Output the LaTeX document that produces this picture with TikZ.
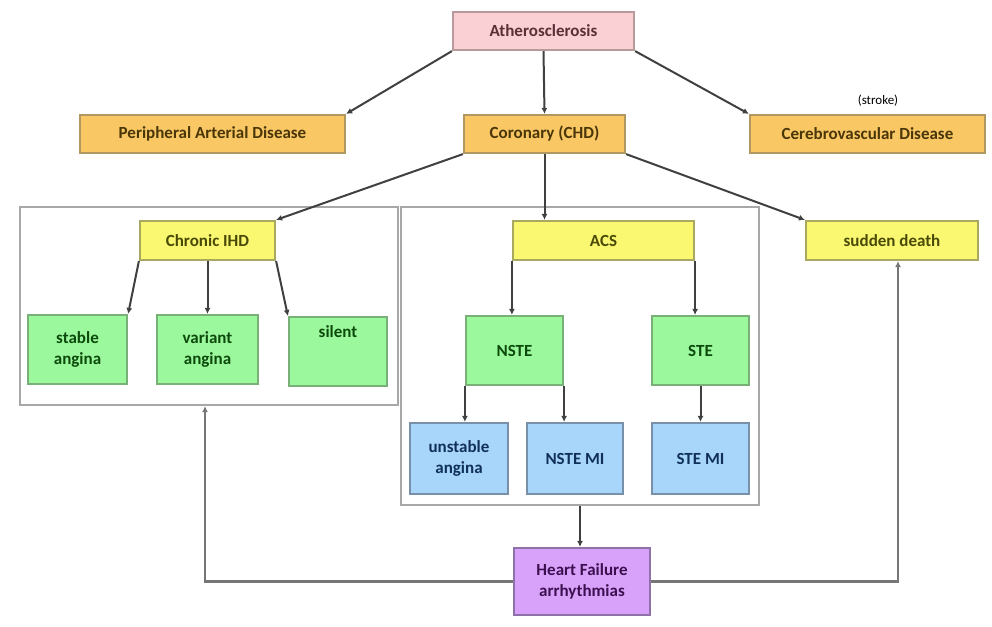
\documentclass[tikz,border=0pt]{standalone}
\usepackage{fontspec}
\setmainfont{Carlito}
\usetikzlibrary{arrows.meta}
\definecolor{pinkf}{HTML}{FAD0D5}
\definecolor{pinkd}{HTML}{B89A9C}
\definecolor{pinkt}{HTML}{5A3036}
\definecolor{orf}{HTML}{F9C865}
\definecolor{ord}{HTML}{B09860}
\definecolor{ort}{HTML}{4A3608}
\definecolor{yef}{HTML}{FAF870}
\definecolor{yed}{HTML}{A8A860}
\definecolor{yet}{HTML}{4A4A08}
\definecolor{grf}{HTML}{9CF89C}
\definecolor{grd}{HTML}{78B078}
\definecolor{grt}{HTML}{0C4A0C}
\definecolor{blf}{HTML}{A8D6FA}
\definecolor{bld}{HTML}{7890A8}
\definecolor{blt}{HTML}{10305A}
\definecolor{puf}{HTML}{D8A2FA}
\definecolor{pud}{HTML}{9070A8}
\definecolor{put}{HTML}{3C1050}
\definecolor{linec}{HTML}{404040}
\definecolor{contc}{HTML}{A8A8A8}
\tikzset{
  box/.style={draw, line width=2.2pt, inner sep=1pt, align=center,
    font=\fontsize{17}{21}\selectfont\bfseries},
  pinkbox/.style={box, fill=pinkf, draw=pinkd, text=pinkt},
  orbox/.style={box, fill=orf, draw=ord, text=ort},
  yebox/.style={box, fill=yef, draw=yed, text=yet},
  grbox/.style={box, fill=grf, draw=grd, text=grt},
  blbox/.style={box, fill=blf, draw=bld, text=blt},
  pubox/.style={box, fill=puf, draw=pud, text=put},
  cont/.style={draw=contc, line width=2.2pt, fill=white, inner sep=0pt},
  arr/.style={draw=linec, line width=2pt, -{Latex[length=6pt,width=6pt]}},
  ln/.style={draw=contc!70!black, line width=2.4pt, -{Latex[length=6pt,width=6pt]}}
}
\begin{document}
\begin{tikzpicture}[x=1pt,y=-1pt]
\useasboundingbox (0,0) rectangle (992,626);
% containers
\node[cont, minimum width=378pt, minimum height=198pt] (lc) at (209,306) {};
\node[cont, minimum width=358pt, minimum height=298pt] (cm) at (580,356) {};
% top level
\node[pinkbox, minimum width=181pt, minimum height=38pt] (ath) at (543.5,31) {Atherosclerosis};
\node[orbox, minimum width=265pt, minimum height=38pt] (pad) at (212.5,134) {Peripheral Arterial Disease};
\node[orbox, minimum width=161pt, minimum height=38pt] (chd) at (544.5,134) {Coronary (CHD)};
\node[orbox, minimum width=235pt, minimum height=38pt] (cvd) at (867.5,134) {Cerebrovascular Disease};
\node[font=\fontsize{13}{15}\selectfont, text=black, inner sep=1pt] (strk) at (878,101) {(stroke)};
% second level
\node[yebox, minimum width=135pt, minimum height=39pt] (cihd) at (207.5,240.5) {Chronic IHD};
\node[yebox, minimum width=181pt, minimum height=39pt] (acs) at (603.5,240.5) {ACS};
\node[yebox, minimum width=172pt, minimum height=39pt] (sd) at (892,240.5) {sudden death};
% green
\node[grbox, minimum width=99pt, minimum height=69pt] (stab) at (77.5,349.5) {stable\\angina};
\node[grbox, minimum width=101pt, minimum height=69pt] (vari) at (207.5,349.5) {variant\\angina};
\node[grbox, minimum width=98pt, minimum height=69pt, anchor=north, text depth=44pt, text height=16pt] (sil) at (338,316) {silent};
\node[grbox, minimum width=97pt, minimum height=69pt] (nste) at (514.5,350.5) {NSTE};
\node[grbox, minimum width=97pt, minimum height=69pt] (ste) at (700.5,350.5) {STE};
% blue
\node[blbox, minimum width=98pt, minimum height=71pt] (unst) at (459,458.5) {unstable\\angina};
\node[blbox, minimum width=96pt, minimum height=71pt] (nmi) at (575,458.5) {NSTE MI};
\node[blbox, minimum width=97pt, minimum height=71pt] (smi) at (700.5,458.5) {STE MI};
% purple
\node[pubox, minimum width=136pt, minimum height=67pt] (hf) at (582,581.5) {Heart Failure\\arrhythmias};
% connectors
\draw[arr] (ath.south west) -- (pad.north east);
\draw[arr] (ath.south) -- (chd.north);
\draw[arr] (ath.south east) -- (cvd.north west);
\draw[arr] (chd.south west) -- (cihd.north east);
\draw[arr] (chd.south) -- (chd.south |- acs.north);
\draw[arr] (chd.south east) -- (sd.north west);
\draw[arr] (cihd.south west) -- (stab.north east);
\draw[arr] (cihd.south) -- (vari.north);
\draw[arr] (cihd.south east) -- (sil.north west);
\draw[arr] (acs.south west) -- (acs.south west |- nste.north);
\draw[arr] (acs.south east) -- (acs.south east |- ste.north);
\draw[arr] (nste.south west) -- (nste.south west |- unst.north);
\draw[arr] (nste.south east) -- (nste.south east |- nmi.north);
\draw[arr] (ste.south) -- (smi.north);
\draw[arr] (cm.south) -- (cm.south |- hf.north);
\draw[ln] (hf.west) -| ([xshift=-4pt]lc.south);
\draw[ln] (hf.east) -| ([xshift=6pt]sd.south);
\end{tikzpicture}
\end{document}
